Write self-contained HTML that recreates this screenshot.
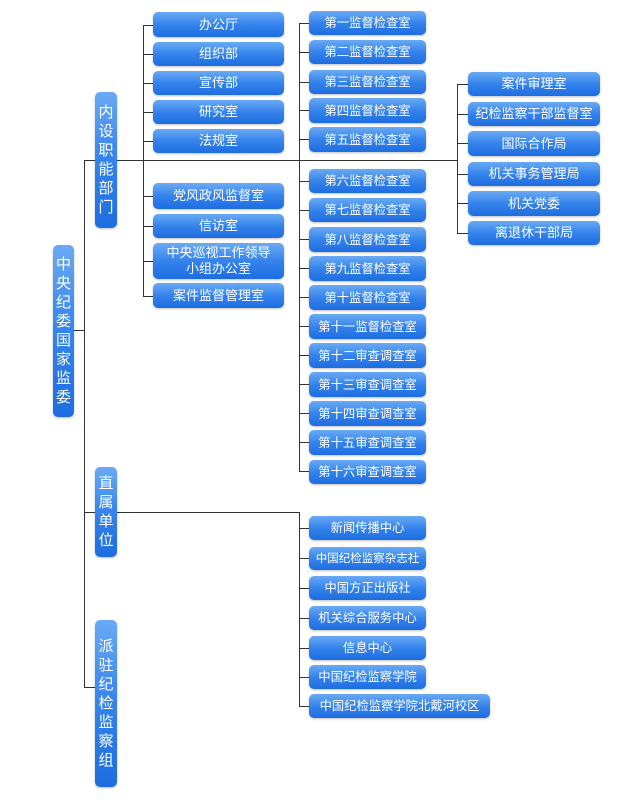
<!DOCTYPE html>
<html><head><meta charset="utf-8"><style>
body{margin:0;width:640px;height:803px;background:#fff;position:relative;overflow:hidden;font-family:"Liberation Sans","Noto Sans CJK SC",sans-serif}
.b{position:absolute;box-sizing:border-box;border-radius:5px;background:linear-gradient(#6aaaf4,#3583ec 50%,#1e6de0);color:#fff;font-size:13px;display:flex;align-items:center;justify-content:center;text-align:center;line-height:16px;box-shadow:0 1px 2px rgba(0,0,0,.25);white-space:nowrap}
.s{font-size:12.3px}
.v{font-size:15px;line-height:19px;padding:0 3px;flex-direction:column}
.h{position:absolute;height:1px;background:#333}
.l{position:absolute;width:1px;background:#333}
</style></head><body>
<div class="h" style="left:74px;top:330px;width:10px"></div>
<div class="l" style="left:84px;top:160px;height:528px"></div>
<div class="h" style="left:84px;top:160px;width:373px"></div>
<div class="h" style="left:84px;top:512px;width:216px"></div>
<div class="h" style="left:84px;top:687px;width:11px"></div>
<div class="l" style="left:143px;top:25px;height:272px"></div>
<div class="l" style="left:299px;top:23px;height:449px"></div>
<div class="l" style="left:457px;top:84px;height:150px"></div>
<div class="l" style="left:299px;top:512px;height:195px"></div>

<div class="b v" style="left:53px;top:245px;width:21px;height:172px">中<br>央<br>纪<br>委<br>国<br>家<br>监<br>委</div>
<div class="b v" style="left:95px;top:92px;width:22px;height:136px">内<br>设<br>职<br>能<br>部<br>门</div>
<div class="b v" style="left:95px;top:467px;width:22px;height:90px">直<br>属<br>单<br>位</div>
<div class="b v" style="left:95px;top:620px;width:22px;height:167px">派<br>驻<br>纪<br>检<br>监<br>察<br>组</div>

<div class="h" style="left:143px;top:25px;width:10px"></div><div class="b" style="left:153px;top:12px;width:131px;height:25px">办公厅</div>
<div class="h" style="left:143px;top:54px;width:10px"></div><div class="b" style="left:153px;top:42px;width:131px;height:24px">组织部</div>
<div class="h" style="left:143px;top:83px;width:10px"></div><div class="b" style="left:153px;top:71px;width:131px;height:24px">宣传部</div>
<div class="h" style="left:143px;top:112px;width:10px"></div><div class="b" style="left:153px;top:100px;width:131px;height:24px">研究室</div>
<div class="h" style="left:143px;top:141px;width:10px"></div><div class="b" style="left:153px;top:129px;width:131px;height:24px">法规室</div>
<div class="h" style="left:143px;top:196px;width:10px"></div><div class="b" style="left:153px;top:183px;width:131px;height:26px">党风政风监督室</div>
<div class="h" style="left:143px;top:226px;width:10px"></div><div class="b" style="left:153px;top:214px;width:131px;height:24px">信访室</div>
<div class="h" style="left:143px;top:261px;width:10px"></div><div class="b" style="left:153px;top:243px;width:131px;height:36px">中央巡视工作领导<br>小组办公室</div>
<div class="h" style="left:143px;top:296px;width:10px"></div><div class="b" style="left:153px;top:283px;width:131px;height:25px">案件监督管理室</div>

<div class="h" style="left:299px;top:23px;width:10px"></div><div class="b s" style="left:309px;top:11px;width:117px;height:24px">第一监督检查室</div>
<div class="h" style="left:299px;top:52px;width:10px"></div><div class="b s" style="left:309px;top:40px;width:117px;height:24px">第二监督检查室</div>
<div class="h" style="left:299px;top:82px;width:10px"></div><div class="b s" style="left:309px;top:70px;width:117px;height:24px">第三监督检查室</div>
<div class="h" style="left:299px;top:110px;width:10px"></div><div class="b s" style="left:309px;top:98px;width:117px;height:25px">第四监督检查室</div>
<div class="h" style="left:299px;top:139px;width:10px"></div><div class="b s" style="left:309px;top:127px;width:117px;height:25px">第五监督检查室</div>
<div class="h" style="left:299px;top:181px;width:10px"></div><div class="b s" style="left:309px;top:169px;width:117px;height:24px">第六监督检查室</div>
<div class="h" style="left:299px;top:210px;width:10px"></div><div class="b s" style="left:309px;top:198px;width:117px;height:24px">第七监督检查室</div>
<div class="h" style="left:299px;top:239px;width:10px"></div><div class="b s" style="left:309px;top:227px;width:117px;height:25px">第八监督检查室</div>
<div class="h" style="left:299px;top:268px;width:10px"></div><div class="b s" style="left:309px;top:256px;width:117px;height:25px">第九监督检查室</div>
<div class="h" style="left:299px;top:297px;width:10px"></div><div class="b s" style="left:309px;top:285px;width:117px;height:25px">第十监督检查室</div>
<div class="h" style="left:299px;top:326px;width:10px"></div><div class="b s" style="left:309px;top:314px;width:117px;height:25px">第十一监督检查室</div>
<div class="h" style="left:299px;top:355px;width:10px"></div><div class="b s" style="left:309px;top:343px;width:117px;height:25px">第十二审查调查室</div>
<div class="h" style="left:299px;top:384px;width:10px"></div><div class="b s" style="left:309px;top:372px;width:117px;height:25px">第十三审查调查室</div>
<div class="h" style="left:299px;top:413px;width:10px"></div><div class="b s" style="left:309px;top:401px;width:117px;height:25px">第十四审查调查室</div>
<div class="h" style="left:299px;top:442px;width:10px"></div><div class="b s" style="left:309px;top:430px;width:117px;height:25px">第十五审查调查室</div>
<div class="h" style="left:299px;top:471px;width:10px"></div><div class="b s" style="left:309px;top:460px;width:117px;height:24px">第十六审查调查室</div>

<div class="h" style="left:457px;top:84px;width:11px"></div><div class="b" style="left:468px;top:72px;width:132px;height:24px">案件审理室</div>
<div class="h" style="left:457px;top:114px;width:11px"></div><div class="b" style="left:468px;top:102px;width:132px;height:24px">纪检监察干部监督室</div>
<div class="h" style="left:457px;top:143px;width:11px"></div><div class="b" style="left:468px;top:131px;width:132px;height:25px">国际合作局</div>
<div class="h" style="left:457px;top:174px;width:11px"></div><div class="b" style="left:468px;top:162px;width:132px;height:24px">机关事务管理局</div>
<div class="h" style="left:457px;top:203px;width:11px"></div><div class="b" style="left:468px;top:191px;width:132px;height:25px">机关党委</div>
<div class="h" style="left:457px;top:233px;width:11px"></div><div class="b" style="left:468px;top:221px;width:132px;height:24px">离退休干部局</div>

<div class="h" style="left:299px;top:528px;width:10px"></div><div class="b s" style="left:309px;top:516px;width:117px;height:24px">新闻传播中心</div>
<div class="h" style="left:299px;top:558px;width:10px"></div><div class="b s" style="left:309px;top:547px;width:117px;height:23px;font-size:11.5px">中国纪检监察杂志社</div>
<div class="h" style="left:299px;top:588px;width:10px"></div><div class="b s" style="left:309px;top:576px;width:117px;height:24px">中国方正出版社</div>
<div class="h" style="left:299px;top:618px;width:10px"></div><div class="b s" style="left:309px;top:606px;width:117px;height:24px">机关综合服务中心</div>
<div class="h" style="left:299px;top:648px;width:10px"></div><div class="b s" style="left:309px;top:636px;width:117px;height:24px">信息中心</div>
<div class="h" style="left:299px;top:677px;width:10px"></div><div class="b s" style="left:309px;top:665px;width:117px;height:24px">中国纪检监察学院</div>
<div class="h" style="left:299px;top:706px;width:10px"></div><div class="b s" style="left:309px;top:694px;width:181px;height:24px">中国纪检监察学院北戴河校区</div>
</body></html>
